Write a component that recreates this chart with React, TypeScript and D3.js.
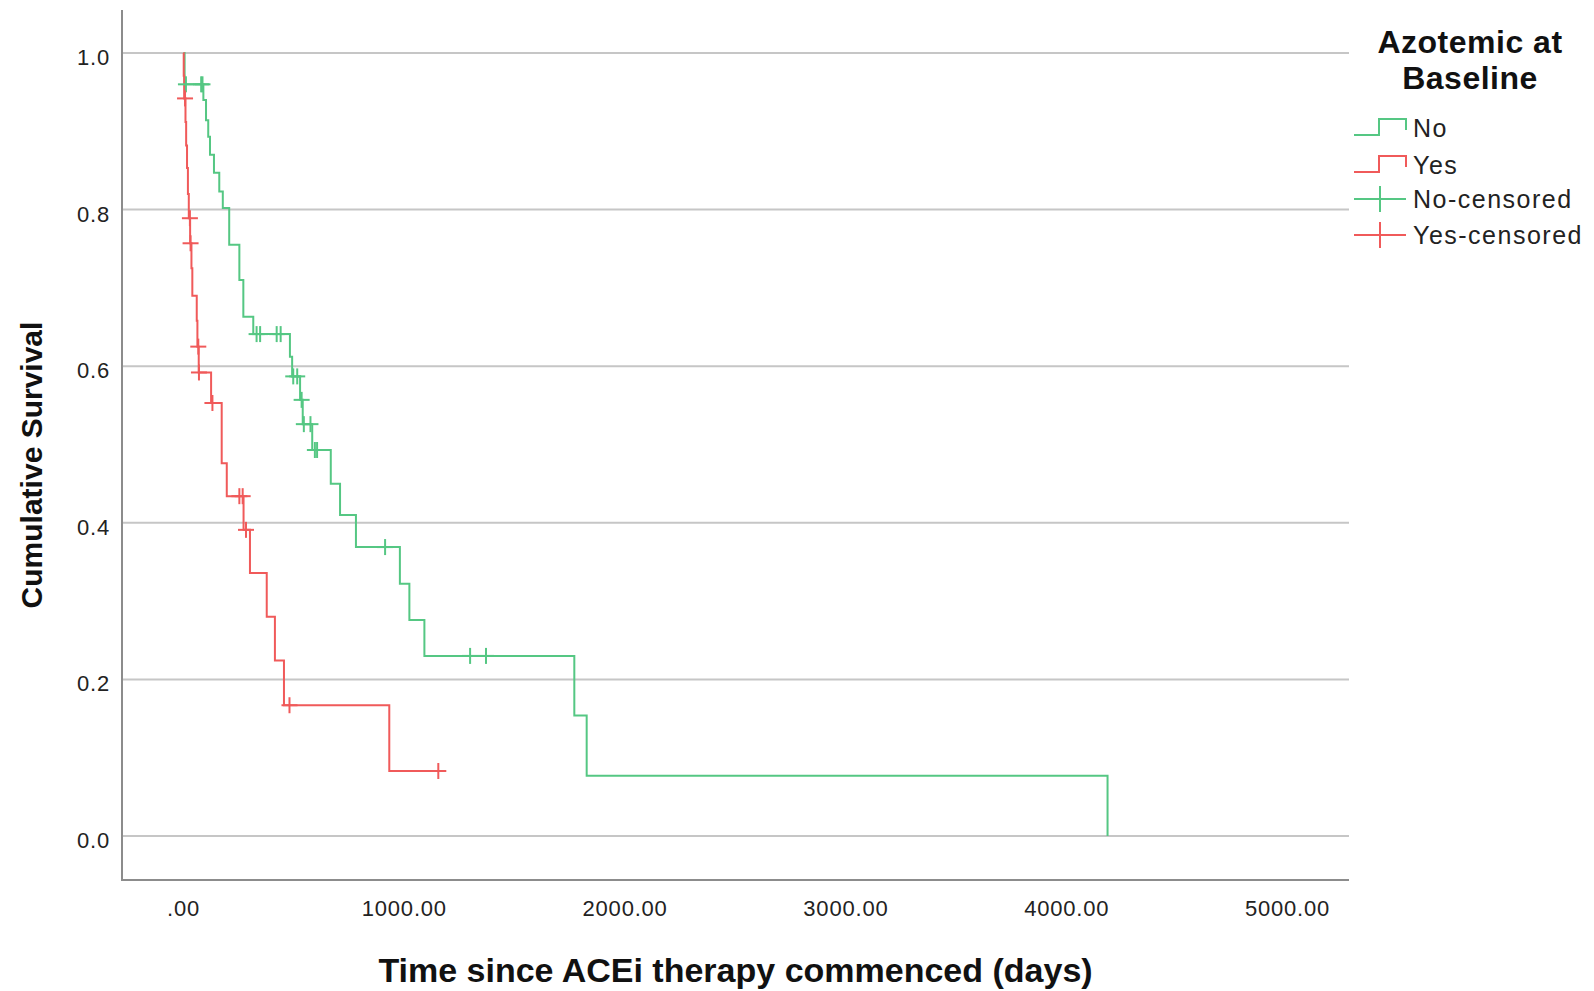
import React from 'react';
import * as d3 from 'd3';

// axis ticks
const xTicks = [0, 1000, 2000, 3000, 4000, 5000];
const yTicks = [0, 0.2, 0.4, 0.6, 0.8, 1.0];

// Azotemic at baseline = No : event times (days) and survival after each event
const noTimes = [5, 90, 102, 112, 120, 138, 162, 178, 207, 253, 271, 316, 482, 492, 528, 540, 583, 667, 709, 781, 980, 1023, 1091, 1770, 1826, 4185];
const noSurv = [0.960, 0.940, 0.914, 0.893, 0.870, 0.847, 0.823, 0.802, 0.755, 0.710, 0.663, 0.641, 0.612, 0.587, 0.557, 0.526, 0.493, 0.450, 0.410, 0.369, 0.322, 0.276, 0.230, 0.154, 0.077, 0];
const noCensored = [11, 80, 86, 331, 347, 422, 440, 497, 515, 535, 545, 575, 595, 605, 913, 1298, 1370];

// Azotemic at baseline = Yes
const yesTimes = [1, 3, 9, 12, 16, 20, 24, 30, 36, 40, 60, 63, 69, 125, 173, 196, 272, 301, 377, 414, 455, 932];
const yesSurv = [0.971, 0.942, 0.912, 0.882, 0.853, 0.820, 0.789, 0.757, 0.725, 0.690, 0.658, 0.625, 0.592, 0.553, 0.476, 0.434, 0.391, 0.336, 0.280, 0.224, 0.167, 0.083];
const yesCensored = [7, 29, 32, 67, 70, 131, 253, 268, 283, 480, 1154];

const legendLabels = ['No', 'Yes', 'No-censored', 'Yes-censored'];

const GREEN = '#55c783';
const RED = '#f05a5a';
const FONT = '"Liberation Sans", Arial, sans-serif';

function survivalAt(times: number[], surv: number[], t: number) {
    let s = 1;
    for (let i = 0; i < times.length; i++) {
        if (times[i] <= t) s = surv[i];
    }
    return s;
}

export default function App() {
    const width = 1594, height = 991;
    const plot = { left: 122, right: 1349, top: 10, bottom: 880 };

    const x = d3.scaleLinear().domain([0, 5000]).range([183.5, 1287.5]);
    const y = d3.scaleLinear().domain([0, 1]).range([836, 53]);

    const line = d3.line<[number, number]>()
        .x(d => x(d[0]))
        .y(d => y(d[1]))
        .curve(d3.curveStepAfter);

    function curvePoints(times: number[], surv: number[], censored: number[]) {
        let pts: [number, number][] = [[0, 1]];
        times.forEach((t, i) => pts.push([t, surv[i]]));
        let lastC = d3.max(censored) || 0;
        if (lastC > times[times.length - 1]) pts.push([lastC, surv[surv.length - 1]]);
        return pts;
    }

    const series = [
        { color: GREEN, times: noTimes, surv: noSurv, cens: noCensored },
        { color: RED, times: yesTimes, surv: yesSurv, cens: yesCensored },
    ];

    const fmtX = (v: number) => d3.format('.2f')(v).replace(/^0\./, '.');
    const fmtY = d3.format('.1f');

    const rows = [128, 165, 199, 235];

    return (
        <div>
            <style>{'body{margin:0}'}</style>
            <svg width={width} height={height} style={{ display: 'block', background: '#fff' }}>
                {/* grid lines */}
                {yTicks.map(v => (
                    <line key={'g' + v} x1={plot.left} x2={plot.right} y1={y(v)} y2={y(v)}
                        stroke="#c6c6c6" strokeWidth={2} />
                ))}
                {/* axes */}
                <line x1={plot.left} x2={plot.left} y1={plot.top} y2={plot.bottom} stroke="#8c8c8c" strokeWidth={2} />
                <line x1={plot.left - 1} x2={plot.right} y1={plot.bottom} y2={plot.bottom} stroke="#8c8c8c" strokeWidth={2} />

                {yTicks.map(v => (
                    <text key={'yt' + v} x={110} y={y(v) + 12} textAnchor="end" fontFamily={FONT}
                        fontSize={22} letterSpacing={0.8} fill="#222">{fmtY(v)}</text>
                ))}
                {xTicks.map(v => (
                    <text key={'xt' + v} x={x(v)} y={916} textAnchor="middle" fontFamily={FONT}
                        fontSize={22} letterSpacing={0.8} fill="#222">{fmtX(v)}</text>
                ))}

                <text x={(plot.left + plot.right) / 2} y={982} textAnchor="middle" fontFamily={FONT}
                    fontSize={34} fontWeight="bold" fill="#111">Time since ACEi therapy commenced (days)</text>
                <text transform={`translate(42, ${465}) rotate(-90)`} textAnchor="middle" fontFamily={FONT}
                    fontSize={30} fontWeight="bold" fill="#111">Cumulative Survival</text>

                {/* survival curves */}
                {series.map((s, i) => (
                    <path key={'c' + i} d={line(curvePoints(s.times, s.surv, s.cens)) || ''}
                        fill="none" stroke={s.color} strokeWidth={2} />
                ))}
                {/* censor marks */}
                {series.map((s, i) => (
                    <g key={'m' + i} stroke={s.color} strokeWidth={2}>
                        {s.cens.map((t, j) => {
                            const cx = x(t), cy = y(survivalAt(s.times, s.surv, t));
                            return (
                                <g key={j}>
                                    <line x1={cx - 8} x2={cx + 8} y1={cy} y2={cy} />
                                    <line x1={cx} x2={cx} y1={cy - 8} y2={cy + 8} />
                                </g>
                            );
                        })}
                    </g>
                ))}

                {/* legend */}
                <text textAnchor="middle" fontFamily={FONT} fontSize={32} letterSpacing={0.5} fontWeight="bold" fill="#111">
                    <tspan x={1470} y={53}>Azotemic at</tspan>
                    <tspan x={1470} y={89}>Baseline</tspan>
                </text>
                {legendLabels.map((lab, i) => {
                    const c = rows[i];
                    const color = i % 2 === 0 ? GREEN : RED;
                    return (
                        <g key={lab}>
                            {i < 2 ? (
                                <path d={`M1354,${c + 7}H1379V${c - 9}H1406V${c + 2}`} fill="none" stroke={color} strokeWidth={2} />
                            ) : (
                                <g stroke={color} strokeWidth={2}>
                                    <line x1={1354} x2={1406} y1={c} y2={c} />
                                    <line x1={1380} x2={1380} y1={c - 13} y2={c + 13} />
                                </g>
                            )}
                            <text x={1413} y={c + 9} fontFamily={FONT} fontSize={25} letterSpacing={1.5} fill="#222">{lab}</text>
                        </g>
                    );
                })}
            </svg>
        </div>
    );
}
